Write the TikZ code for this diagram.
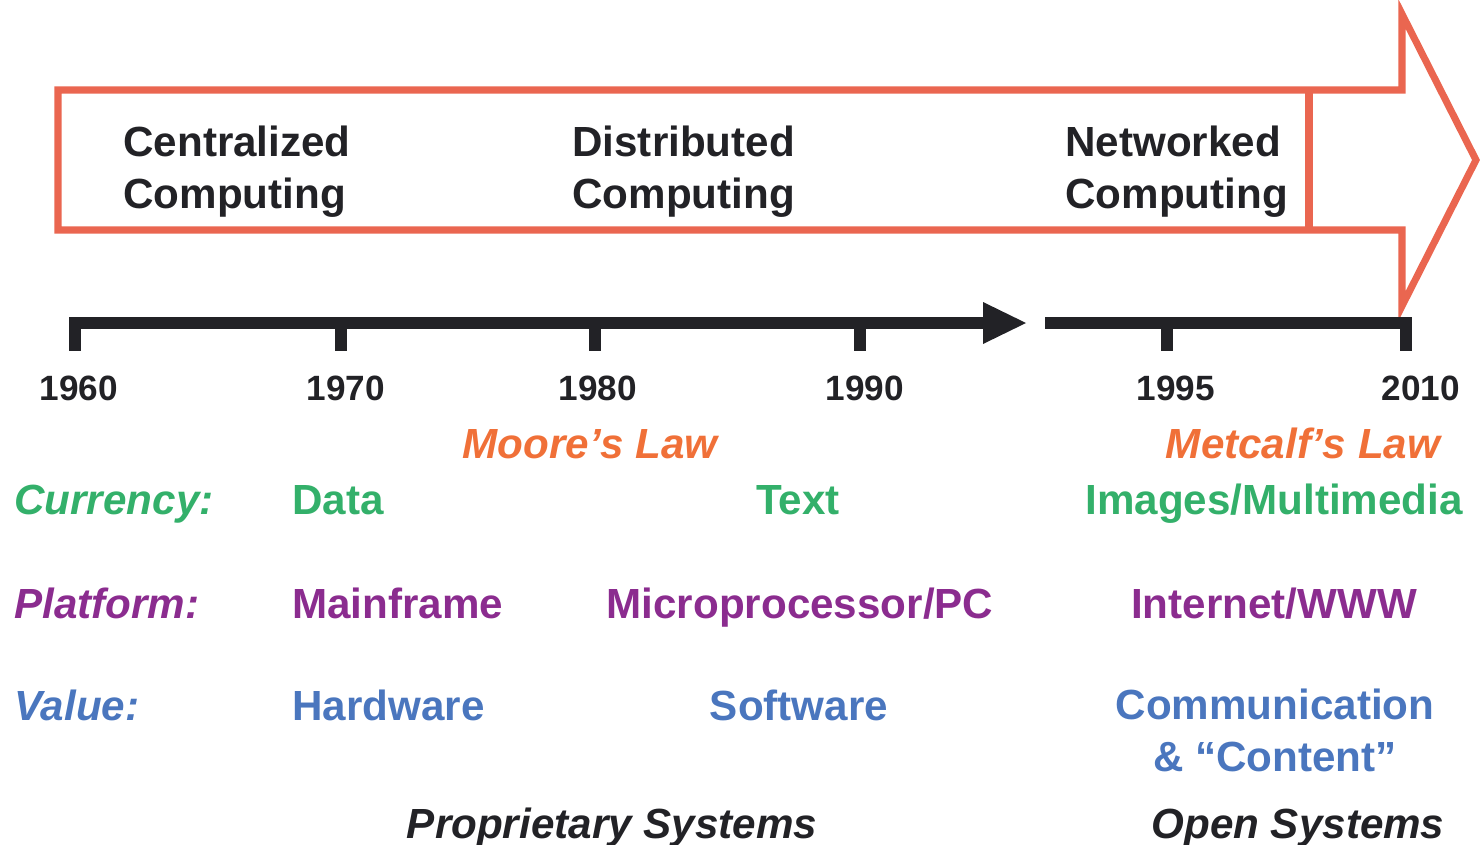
\documentclass[tikz,border=0pt]{standalone}
\usepackage{fontspec}
\setmainfont{Liberation Sans}
\definecolor{arrowred}{RGB}{234,102,80}
\definecolor{lawor}{RGB}{240,112,56}
\definecolor{currgreen}{RGB}{51,176,106}
\definecolor{platpurple}{RGB}{139,44,143}
\definecolor{valblue}{RGB}{74,118,190}
\definecolor{inkblack}{RGB}{34,34,38}

\begin{document}
\begin{tikzpicture}[x=0.02cm, y=0.02cm]
	\tikzstyle{every node}+=[inner sep=0pt]
	\tikzstyle{label}=[font=\fontsize{24}{29.5}\selectfont\bfseries]
	\tikzstyle{ilabel}=[font=\fontsize{24}{29.5}\selectfont\bfseries\itshape]
	\tikzstyle{yearlbl}=[font=\fontsize{20}{24}\selectfont\bfseries, text=inkblack]
	\useasboundingbox (0,0) rectangle (1482,-845);
	% big era arrow
	\draw [arrowred, line width=4pt, line join=miter] (58,-90) -- (1402,-90) -- (1402,-14) -- (1476,-160) -- (1402,-306) -- (1402,-230) -- (58,-230) -- cycle;
	\draw [arrowred, line width=4pt] (1309,-90) -- (1309,-230);
	% second line baseline is the node base
	\node [label, text=inkblack, anchor=base west, align=left] (cent) at (123,-208) {Centralized\\Computing};
	\node [label, text=inkblack, anchor=base west, align=left] (dist) at (572,-208) {Distributed\\Computing};
	\node [label, text=inkblack, anchor=base west, align=left] (netw) at (1065,-208) {Networked\\Computing};
	% timeline
	\coordinate (t1960) at (75,-323);
	\coordinate (t1970) at (341,-323);
	\coordinate (t1980) at (595,-323);
	\coordinate (t1990) at (860,-323);
	\coordinate (tgap) at (990,-323);
	\coordinate (tnext) at (1045,-323);
	\coordinate (t1995) at (1167,-323);
	\coordinate (t2010) at (1406,-323);
	\draw [inkblack, line width=6.8pt] ([xshift=-3.4pt]t1960) -- (tgap);
	\fill [inkblack] (983,-302) -- (1026,-323) -- (983,-344) -- cycle;
	\draw [inkblack, line width=6.8pt] (tnext) -- ([xshift=3.4pt]t2010);
	\foreach \t in {t1960,t1970,t1980,t1990,t1995,t2010}
		\draw [inkblack, line width=6.8pt] (\t) -- ++(0,-28);
	\node [yearlbl, anchor=base] (y1960) at (79,-400) {1960};
	\node [yearlbl, anchor=base] (y1970) at (346,-400) {1970};
	\node [yearlbl, anchor=base] (y1980) at (598,-400) {1980};
	\node [yearlbl, anchor=base] (y1990) at (865,-400) {1990};
	\node [yearlbl, anchor=base] (y1995) at (1176,-400) {1995};
	\node [yearlbl, anchor=base] (y2010) at (1421,-400) {2010};
	% laws
	\node [ilabel, text=lawor, anchor=base] (moore) at (590,-458) {Moore’s Law};
	\node [ilabel, text=lawor, anchor=base] (metcalf) at (1303,-458) {Metcalf’s Law};
	% currency
	\node [ilabel, text=currgreen, anchor=base west] (curr) at (14,-514) {Currency:};
	\node [label, text=currgreen, anchor=base west] (data) at (292,-514) {Data};
	\node [label, text=currgreen, anchor=base] (text) at (798,-514) {Text};
	\node [label, text=currgreen, anchor=base] (media) at (1274,-514) {Images/Multimedia};
	% platform
	\node [ilabel, text=platpurple, anchor=base west] (plat) at (14,-618) {Platform:};
	\node [label, text=platpurple, anchor=base west] (mainf) at (292,-618) {Mainframe};
	\node [label, text=platpurple, anchor=base] (micro) at (800,-618) {Microprocessor/PC};
	\node [label, text=platpurple, anchor=base] (inet) at (1274,-618) {Internet/WWW};
	% value
	\node [ilabel, text=valblue, anchor=base west] (val) at (14,-720) {Value:};
	\node [label, text=valblue, anchor=base west] (hard) at (292,-720) {Hardware};
	\node [label, text=valblue, anchor=base] (soft) at (799,-720) {Software};
	\node [label, text=valblue, anchor=base, align=center] (comm) at (1275,-771) {Communication\\\& “Content”};
	% systems
	\node [ilabel, text=inkblack, anchor=base] (prop) at (612,-838) {Proprietary Systems};
	\node [ilabel, text=inkblack, anchor=base] (open) at (1298,-838) {Open Systems};
\end{tikzpicture}
\end{document}
